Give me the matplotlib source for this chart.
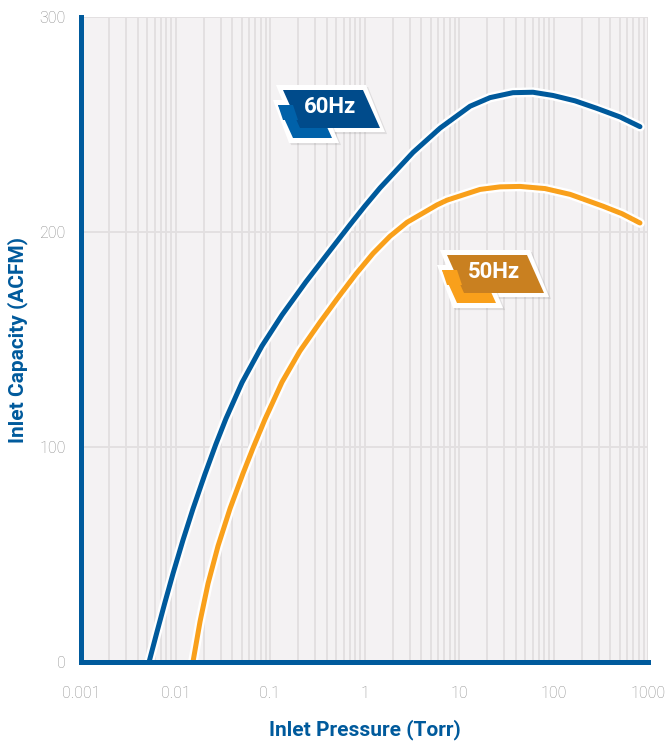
import matplotlib
matplotlib.use('Agg')
import matplotlib.pyplot as plt
import matplotlib.patheffects as pe
from matplotlib.patches import Polygon

# pressure (Torr) / inlet capacity (ACFM)
p_60 = [0.00525, 0.00637, 0.00774, 0.00942, 0.0120, 0.0153, 0.0205, 0.0268,
        0.0342, 0.0506, 0.0822, 0.134, 0.240, 0.432, 0.703, 1.01, 1.46, 3.26,
        6.30, 13.1, 21.3, 37.2, 60.7, 98.9, 169, 288, 506, 822]
acfm_60 = [0, 14, 27.8, 41.2, 56.7, 71.2, 87.4, 101.4,
           113.2, 130, 147, 161.4, 176.8, 191.4, 203.4, 212.1, 220.5, 237,
           248.3, 258.5, 262.5, 264.8, 265, 263.5, 261, 257.5, 253.5, 249]

p_50 = [0.0153, 0.0182, 0.0221, 0.0282, 0.0378, 0.0518, 0.0661, 0.0885,
        0.134, 0.207, 0.338, 0.525, 0.813, 1.23, 1.86, 2.82, 5.85, 7.46,
        16.7, 27.2, 44.2, 81.3, 150, 334, 531, 822]
acfm_50 = [0, 18.9, 36.5, 54, 71.4, 87.7, 99.5, 112.9,
           130.2, 144.6, 158, 169.5, 180.5, 190, 198, 204.5, 212.6, 214.8,
           219.8, 221, 221.2, 220.2, 217.5, 212, 208.5, 204.2]

x_ticks = [0.001, 0.01, 0.1, 1, 10, 100, 1000]
x_labels = ['0.001', '0.01', '0.1', '1', '10', '100', '1000']
y_ticks = [0, 100, 200, 300]
badge_labels = ['60Hz', '50Hz']

BLUE = '#005a9c'
ORANGE = '#f9a01b'
GRID = '#e2dfe0'

W, H = 665, 744
fig = plt.figure(figsize=(W / 100, H / 100), dpi=100)
ax = fig.add_axes([81 / W, 1 - 662 / H, 567 / W, 645 / H])

ax.set_xscale('log')
ax.set_xlim(1e-3, 1e3)
ax.set_ylim(0, 300)
ax.set_facecolor('#f4f2f3')

ax.grid(which='both', axis='x', color=GRID, lw=1.3)
ax.grid(which='major', axis='y', color=GRID, lw=1.3)
ax.set_axisbelow(True)

outline = [pe.Stroke(linewidth=7, foreground='white'), pe.Normal()]
ax.plot(p_60, acfm_60, color=BLUE, lw=3.6, solid_capstyle='round',
        solid_joinstyle='round', path_effects=outline, zorder=3)
ax.plot(p_50, acfm_50, color=ORANGE, lw=3.6, solid_capstyle='round',
        solid_joinstyle='round', path_effects=outline, zorder=3)

for s in ['top', 'right']:
    ax.spines[s].set_visible(False)
for s in ['left', 'bottom']:
    ax.spines[s].set_color(BLUE)
    ax.spines[s].set_linewidth(3.6)
    ax.spines[s].set_zorder(4)

ax.set_xticks(x_ticks, labels=x_labels)
ax.set_yticks(y_ticks)
ax.tick_params(which='both', length=0)
ax.tick_params(axis='x', pad=17)
ax.tick_params(axis='y', pad=11)
for lab in ax.get_xticklabels() + ax.get_yticklabels():
    lab.set_color('#8a8a8a')
    lab.set_fontsize(11.5)
    lab.set_family('Roboto')
    lab.set_fontweight('light')

fig.text(365 / W, 1 - 730 / H, 'Inlet Pressure (Torr)', ha='center', va='center',
         color=BLUE, fontsize=15, fontweight='bold', family='Roboto')
fig.text(18 / W, 1 - 340 / H, 'Inlet Capacity (ACFM)', ha='center', va='center',
         rotation=90, color=BLUE, fontsize=15, fontweight='bold', family='Roboto')


def px(pts, x0, y0):
    return [((x0 + x) / W, 1 - (y0 + y) / H) for x, y in pts]


def badge(x0, y0, text, dark, light):
    # white outline pieces, then light tab, then dark plate
    back = [(-7, -5), (83, -5), (102, 42), (12, 42)]
    back2 = [(-10, 10), (38, 10), (56, 53), (6, 53)]
    tab = [(-5, 15), (34, 15), (49, 48), (10, 48)]
    plate = [(0, 0), (80, 0), (97, 38), (17, 38)]
    shadow = [pe.withSimplePatchShadow(offset=(1.5, -1.5), alpha=0.12)]
    for pts in (back, back2):
        fig.add_artist(Polygon(px(pts, x0, y0), closed=True, fc='white', ec='none',
                               transform=fig.transFigure, path_effects=shadow))
    fig.add_artist(Polygon(px(tab, x0, y0), closed=True, fc=light, ec='none',
                           transform=fig.transFigure))
    fig.add_artist(Polygon(px(plate, x0, y0), closed=True, fc=dark, ec='none',
                           transform=fig.transFigure))
    fig.add_artist(Polygon(px([(-5, 15), (10, 15), (15, 30), (0, 30)], x0, y0), closed=True,
                           fc=light, ec='none', transform=fig.transFigure))
    fig.text((x0 + 47) / W, 1 - (y0 + 17) / H, text, ha='center', va='center',
             color='white', fontsize=16, fontweight='bold', family='Roboto')


badge(283, 90, badge_labels[0], '#004b8b', '#0061a9')
badge(447, 255, badge_labels[1], '#c98020', '#f9a01b')

fig.savefig('out.png', dpi=100, facecolor='white')
